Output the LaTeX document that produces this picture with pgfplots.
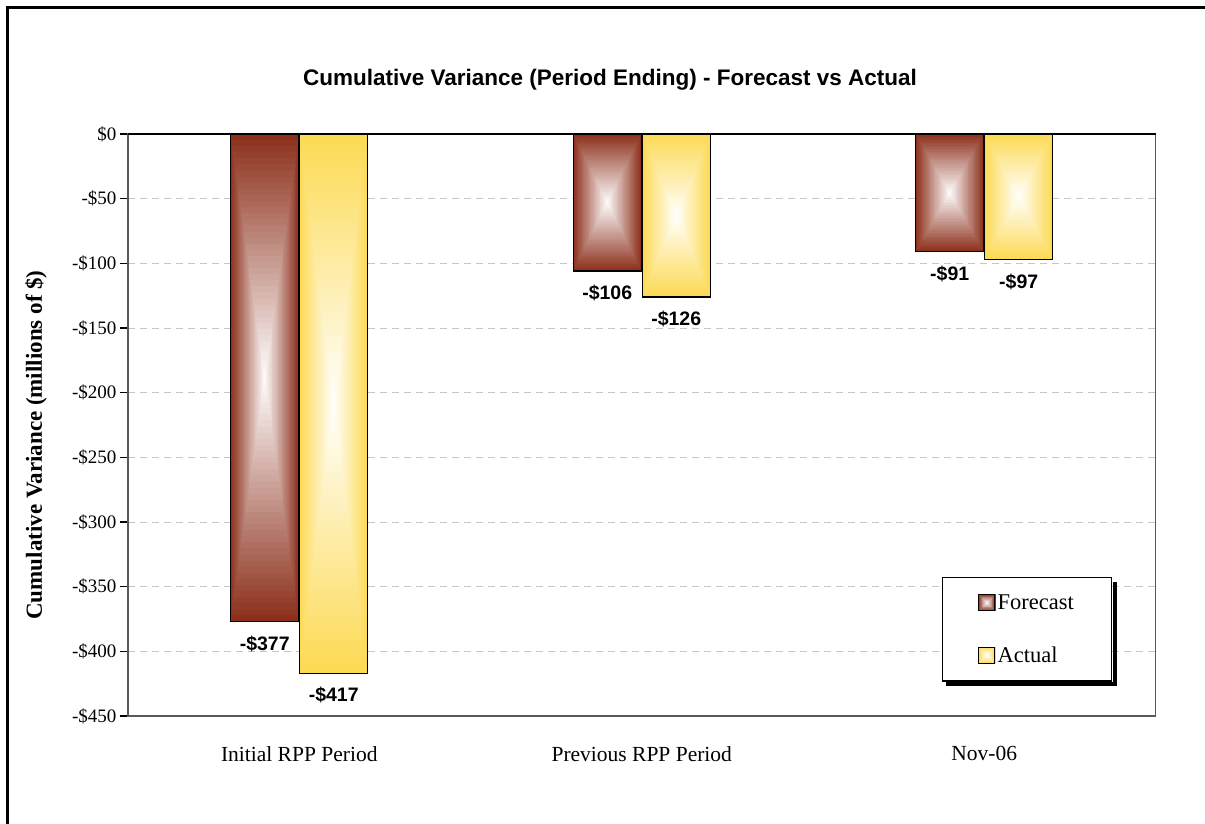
\documentclass[border=0pt]{standalone}
\usepackage{pgfplots}
\usepackage{pgfplotstable}
\pgfplotsset{compat=1.18}
\usetikzlibrary{calc}
\usepackage{fontspec}
\setmainfont{Liberation Serif}
\newfontfamily\arial{Liberation Sans}

\definecolor{fcRed}{rgb}{0.55,0.19,0.11}
\definecolor{acYel}{rgb}{0.99,0.855,0.33}

\pgfplotstableread{
x   f     fl   a     al
0   -377  377  -417  417
1   -106  106  -126  126
2   -91   91   -97   97
}\datatable

% box gradient inside a bar: colour, bar centre (axis x), bar value
\newcommand\boxgrad[3]{%
  \foreach \k in {0,...,39}{%
    \pgfmathsetmacro\r{1-\k/40}%
    \pgfmathsetmacro\pc{100*(1-\k/40)}%
    \fill[#1!\pc!white] (axis cs:{#2-0.09927*\r},{#3/2*(1-\r)}) rectangle (axis cs:{#2+0.09927*\r},{#3/2*(1+\r)});
  }}
\newcommand\legendgrad[1]{%
  \foreach \k in {0,...,9}{%
    \pgfmathsetmacro\r{1-\k/10}%
    \pgfmathsetmacro\pc{100*(1-\k/10)}%
    \fill[#1!\pc!white] ({8pt-8pt*\r},{-8pt*\r}) rectangle ({8pt+8pt*\r},{8pt*\r});
  }%
  \draw[black,line width=1pt] (0pt,-8pt) rectangle (16pt,8pt);}

\begin{document}
\begin{tikzpicture}[x=1pt,y=1pt]
\useasboundingbox (0,0) rectangle (1205,-824);
\draw[line width=2.5pt] (7.5,-824) -- (7.5,-7.5) -- (1205,-7.5);
\node[font=\arial\bfseries\fontsize{22.5}{27}\selectfont] at (610,-80) {Cumulative Variance (Period Ending) - Forecast vs Actual};
\node[rotate=90, font=\bfseries\fontsize{23}{27}\selectfont] at (36,-445) {Cumulative Variance (millions of \$)};
\begin{axis}[
  at={(128pt,-716pt)}, anchor=south west,
  scale only axis, width=1027.5pt, height=582pt,
  xmin=-0.5, xmax=2.5, ymin=-450, ymax=0,
  clip=false,
  ybar=1pt, bar width=68pt,
  /pgf/number format/assume math mode=true,
  xtick={0,1,2}, xticklabels={Initial RPP Period, Previous RPP Period, Nov-06},
  ytick={-450,-400,...,0},
  yticklabels={-\$450,-\$400,-\$350,-\$300,-\$250,-\$200,-\$150,-\$100,-\$50,\$0},
  yticklabel style={font=\fontsize{19}{23}\selectfont},
  xticklabel style={font=\fontsize{21.5}{25}\selectfont, yshift=-19pt},
  ytick pos=left, tick align=outside, major tick length=8pt,
  ytick style={draw=black, line width=1.2pt},
  xtick style={draw=none},
  axis line style={draw=gray!70!black, line width=1.5pt},
  ymajorgrids, major grid style={gray!45, dash pattern=on 7pt off 5pt, line width=1pt},
  nodes near coords={-\$\pgfmathprintnumber[fixed,precision=0,assume math mode=true]{\pgfplotspointmeta}},
  point meta=explicit,
  nodes near coords style={font=\arial\bfseries\fontsize{19.5}{23}\selectfont, text=black, yshift=-34pt},
  legend style={name=leg, at={(0.792,0.2388)}, anchor=north west, draw=black, line width=1.2pt, fill=white,
    inner xsep=36pt, inner ysep=15pt, row sep=32pt, font=\fontsize{22.5}{26}\selectfont,
    nodes={inner sep=2pt}, cells={anchor=west}},
]
\pgfplotsextra{%
  \foreach \i in {0,1,2}{%
    \pgfplotstablegetelem{\i}{f}\of\datatable \let\vf\pgfplotsretval
    \pgfplotstablegetelem{\i}{a}\of\datatable \let\va\pgfplotsretval
    \boxgrad{fcRed}{\i-0.10073}{\vf}%
    \boxgrad{acYel}{\i+0.10073}{\va}%
  }%
}
\addplot[draw=black, fill=none, line width=1.2pt,
  legend image code/.code={\legendgrad{fcRed}}] table[x=x, y=f, meta=fl] {\datatable};
\addplot[draw=black, fill=none, line width=1.2pt,
  legend image code/.code={\legendgrad{acYel}}] table[x=x, y=a, meta=al] {\datatable};
\legend{Forecast, Actual}
\draw[black, line width=1.5pt] (rel axis cs:0,1) -- (rel axis cs:1,1);
\end{axis}
% legend drop shadow (right and bottom strips)
\fill[black] ($(leg.north east)+(0.6pt,-4.6pt)$) rectangle ($(leg.south east)+(4.6pt,-4.6pt)$);
\fill[black] ($(leg.south west)+(4.6pt,-0.6pt)$) rectangle ($(leg.south east)+(4.6pt,-4.6pt)$);
\end{tikzpicture}
\end{document}
